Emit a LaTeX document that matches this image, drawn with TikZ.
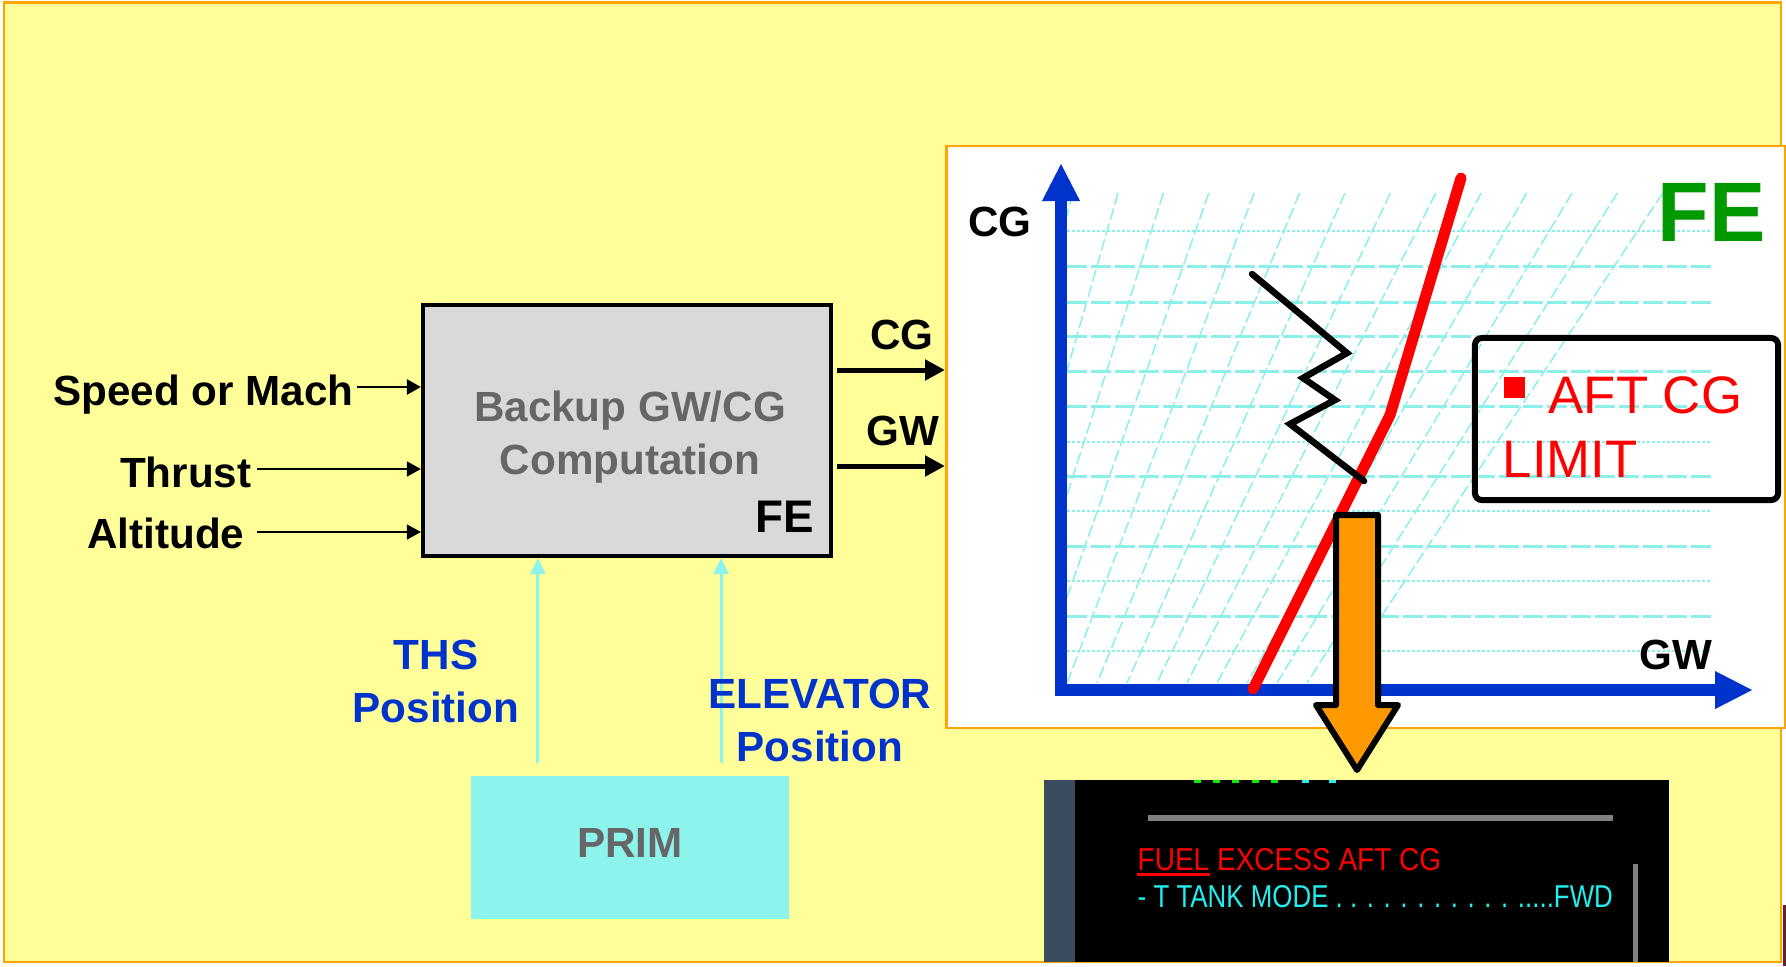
\documentclass[tikz,border=0pt]{standalone}
\usepackage{fontspec}
\setmainfont{Liberation Sans}
\usepackage{graphicx}
\usetikzlibrary{calc}
\usetikzlibrary{arrows.meta}

\definecolor{paper}{HTML}{FFFF99}
\definecolor{frame}{HTML}{FFA500}
\definecolor{boxgray}{HTML}{D9D9D9}
\definecolor{txtgray}{HTML}{666666}
\definecolor{primcyan}{HTML}{8CF4EC}
\definecolor{sigblue}{HTML}{0033CC}
\definecolor{fegreen}{HTML}{009900}
\definecolor{gridcyan}{HTML}{8CF0EA}
\definecolor{arrorange}{HTML}{FF9900}
\definecolor{slate}{HTML}{3A4B5E}
\definecolor{ecamgray}{HTML}{808080}
\definecolor{ecamgreen}{HTML}{00EE00}
\definecolor{ecamcyan}{HTML}{22EEEE}
\definecolor{maroon}{HTML}{6B1E2E}

\begin{document}
\begin{tikzpicture}[x=0.01cm, y=-0.01cm,
  lbl/.style={font=\bfseries\fontsize{12}{15}\selectfont, inner sep=0},
  inarrow/.style={black, line width=0.015cm, -{Triangle[length=0.14cm,width=0.15cm]}},
  outarrow/.style={black, line width=0.05cm, -{Triangle[length=0.2cm,width=0.2cm]}},
  feed/.style={primcyan, line width=0.03cm, -{Triangle[length=0.16cm,width=0.15cm]}},
  axis/.style={sigblue, line width=0.12cm, -{Triangle[length=0.38cm,width=0.35cm]}},
  gridhdash/.style={gridcyan, line width=0.03cm, dash pattern=on 0.2cm off 0.04cm},
  gridhdot/.style={gridcyan, line width=0.012cm, dash pattern=on 0.03cm off 0.02cm},
  gridslant/.style={gridcyan, line width=0.015cm, dash pattern=on 0.12cm off 0.04cm},
  ecam/.style={font=\fontsize{9}{10}\selectfont, inner sep=0, anchor=base west}]
\useasboundingbox (0,0) rectangle (1786,966);
\fill[white] (0,0) rectangle (1786,966);
\draw[frame, line width=0.025cm, fill=paper] (4,2.5) rectangle (1781,962);
\fill[maroon] (1783,905) rectangle (1786,966);

% backup computation block
\node[draw=black, line width=0.04cm, fill=boxgray, minimum width=4.08cm, minimum height=2.51cm, inner sep=0] (box) at (627,430.5) {};
\node[lbl, text=txtgray, align=center] (comp) at (630,437) {Backup GW/CG\\Computation};
\node[lbl, font=\bfseries\fontsize{13}{15}\selectfont, anchor=base east] (fe) at (815,532) {FE};

% inputs
\node[lbl, anchor=base east] (speed) at (354,405) {Speed or Mach};
\node[lbl, anchor=base east] (thrust) at (252,487) {Thrust};
\node[lbl, anchor=base east] (alt) at (245,548) {Altitude};
\coordinate (sp) at ([shift={(3,-18)}]speed.base east);
\coordinate (th) at ([shift={(5,-18)}]thrust.base east);
\coordinate (al) at ([shift={(12,-16)}]alt.base east);
\draw[inarrow, line width=0.027cm] (sp) -- (sp -| box.west);
\draw[inarrow] (th) -- (th -| box.west);
\draw[inarrow] (al) -- (al -| box.west);

% outputs
\coordinate (cgout) at (945,370);
\coordinate (gwout) at (945,466);
\draw[outarrow, shorten <=0.04cm] (cgout -| box.east) -- (cgout);
\draw[outarrow, shorten <=0.04cm] (gwout -| box.east) -- (gwout);
\node[lbl, anchor=base] (cgl) at (902,349) {CG};
\node[lbl, anchor=base] (gwl) at (903,445) {GW};

% PRIM
\node[fill=primcyan, minimum width=3.18cm, minimum height=1.43cm, inner sep=0, text depth=0.09cm, lbl, text=txtgray] (prim) at (630,847.5) {PRIM};
\draw[feed] ([xshift=-0.92cm,yshift=0.12cm]prim.north) -- ([xshift=-0.92cm]prim.north |- box.south);
\draw[feed] ([xshift=0.91cm,yshift=0.12cm]prim.north) -- ([xshift=0.91cm]prim.north |- box.south);
\node[lbl, text=sigblue, align=center] (ths) at (436,681.5) {THS\\Position};
\node[lbl, text=sigblue, align=center] (elev) at (820,720.5) {ELEVATOR\\Position};

% CG chart
\draw[frame, line width=0.025cm, fill=white] (946.5,146) rectangle (1785,728);
\begin{scope}
\clip (1067,193) rectangle (1712,683);
\foreach \j in {0,...,13}
  \draw[gridslant] (1072.6+45.4*\j,193) -- (947+30*\j,683);
\end{scope}
\foreach \y/\s in {231/gridhdot, 266/gridhdash, 302/gridhdash, 336/gridhdash, 371/gridhdash, 406/gridhdash, 442/gridhdot, 476/gridhdash, 511/gridhdot, 546/gridhdash, 581/gridhdot, 616/gridhdash, 651/gridhdot}
  \draw[\s] (1067,\y) -- (1712,\y);
\coordinate (origin) at (1061,690);
\draw[axis] (1061,696) -- (1061,163);
\draw[axis] (1055,690) -- (1753,690);
\node[lbl, anchor=base] (cgaxis) at (1000,236) {CG};
\node[lbl, anchor=base] (gwaxis) at (1676,669) {GW};
\node[anchor=base west, inner sep=0, font=\bfseries\fontsize{24}{28}\selectfont, text=fegreen] (febig) at (1657,241) {FE};
\draw[red, line width=0.11cm, line cap=round, line join=round] (1253,689) -- (1390,415) -- (1461,178);
\draw[black, line width=0.065cm, line cap=round, line join=miter] (1252,274) -- (1347,353) -- (1303,378) -- (1335,400) -- (1290,424) -- (1364,481);
\node[draw=black, line width=0.06cm, rounded corners=2pt, minimum width=3.03cm, minimum height=1.62cm, inner sep=0] (legend) at (1626.5,419) {};
\fill[red] (1504,377) rectangle (1525,398);
\node[anchor=base west, inner sep=0, font=\fontsize{15}{18}\selectfont, text=red] (aft) at (1548,413) {AFT CG};
\node[anchor=base west, inner sep=0, font=\fontsize{15}{18}\selectfont, text=red] (lim) at (1502,477) {LIMIT};
\draw[black, line width=0.06cm, fill=arrorange, line join=round] (1336,515) -- (1378,515) -- (1378,705) -- (1398,705) -- (1357,770) -- (1316,705) -- (1336,705) -- cycle;

% ECAM page
\fill[black] (1044,780) rectangle (1669,962);
\fill[slate] (1044,780) rectangle (1075,962);
\fill[ecamgray] (1148,815) rectangle (1613,821);
\fill[ecamgray] (1633,864) rectangle (1638,962);
\foreach \x in {1194,1213,1232,1252,1271}
  \fill[ecamgreen] (\x,780) rectangle +(7,3);
\foreach \x in {1302,1329}
  \fill[ecamcyan] (\x,780) rectangle +(7,3);
\node[ecam, text=red] (warn) at (1137,870) {\scalebox{0.885}[1]{FUEL EXCESS AFT CG}};
\draw[red, line width=0.03cm] ([yshift=-0.045cm]warn.base west) -- +(73,0);
\node[ecam, text=ecamcyan] (ttank) at (1137,907) {\scalebox{0.818}[1]{- T TANK MODE . . . . . . . . . . . .....FWD}};
\end{tikzpicture}
\end{document}
